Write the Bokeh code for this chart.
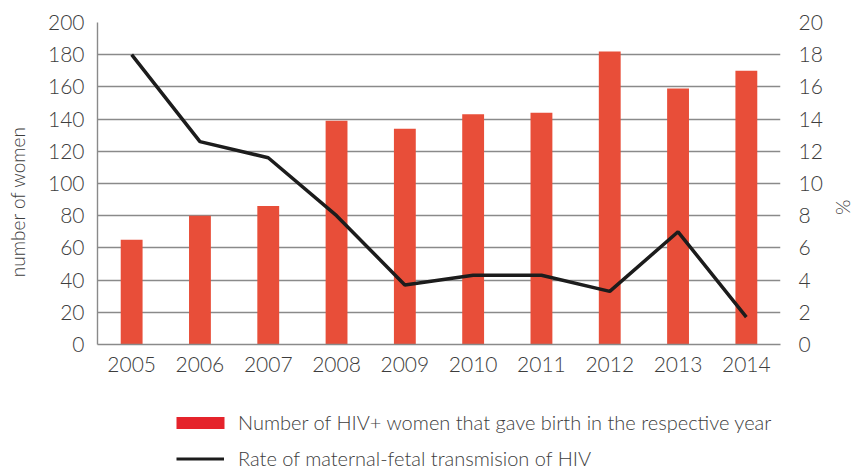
from bokeh.plotting import figure
from bokeh.layouts import column
from bokeh.models import (FactorRange, Range1d, LinearAxis, FixedTicker, Legend,
                          LegendItem, ColumnDataSource, Title)
from bokeh.embed import file_html
from bokeh.resources import INLINE

years = ["2005", "2006", "2007", "2008", "2009", "2010", "2011", "2012", "2013", "2014"]
women = [65, 80, 86, 139, 134, 143, 144, 182, 159, 170]
rate = [18.0, 12.6, 11.6, 8.0, 3.7, 4.3, 4.3, 3.3, 7.0, 1.7]
left_ticks = [0, 20, 40, 60, 80, 100, 120, 140, 160, 180, 200]
right_ticks = [0, 2, 4, 6, 8, 10, 12, 14, 16, 18, 20]
left_title = "number of women"
right_title = "%"
bar_label = "Number of HIV+ women that gave birth in the respective year"
line_label = "Rate of maternal-fetal transmision of HIV"

FONT = "Lato Light, Lato"
TEXT = "#3d3d3d"
GRID = "#8a8a8a"
BAR = "#E84E39"
SWATCH = "#E5232B"
LINE = "#1c1c1c"
NAN = float("nan")
NBSP = "\u00a0"

src = ColumnDataSource(dict(year=years, women=women, rate=rate))

p = figure(width=859, height=400, x_range=FactorRange(*years),
           y_range=Range1d(0, 200), output_backend="svg", toolbar_location=None,
           title=None, min_border_left=97, min_border_right=78,
           min_border_top=22, min_border_bottom=56)
p.extra_y_ranges = {"pct": Range1d(0, 20)}
p.outline_line_color = None

p.vbar(x="year", top="women", width=0.32, source=src,
       fill_color=BAR, line_color=None)
p.line(x="year", y="rate", source=src, y_range_name="pct",
       line_color=LINE, line_width=3.5)

p.xgrid.grid_line_color = None
p.ygrid.grid_line_color = GRID
p.ygrid.grid_line_width = 1.4

xaxis = p.xaxis[0]
laxis = p.yaxis[0]
laxis.ticker = FixedTicker(ticks=left_ticks)
raxis = LinearAxis(y_range_name="pct", ticker=FixedTicker(ticks=right_ticks))
p.add_layout(raxis, "right")

for ax in [xaxis, laxis, raxis]:
    ax.major_tick_line_color = None
    ax.major_tick_out = 0
    ax.major_tick_in = 0
    ax.minor_tick_line_color = None
    ax.minor_tick_out = 0
    ax.minor_tick_in = 0
    ax.axis_line_color = GRID
    ax.axis_line_width = 1.4
    ax.major_label_text_font = FONT
    ax.major_label_text_font_size = "21px"
    ax.major_label_text_color = TEXT

raxis.axis_line_color = None
xaxis.major_label_standoff = 12
laxis.major_label_standoff = 13
raxis.major_label_standoff = 18

# left axis title: trailing no-break spaces move the visible words below the centre
laxis.axis_label = left_title + NBSP * 7
laxis.axis_label_standoff = 16
laxis.axis_label_text_font = FONT
laxis.axis_label_text_font_size = "19px"
laxis.axis_label_text_font_style = "normal"
laxis.axis_label_text_color = TEXT

p.add_layout(Title(text=right_title, align="left", offset=177, vertical_align="top",
                   standoff=8, text_font=FONT, text_font_size="20px",
                   text_font_style="normal", text_color=TEXT), "right")

# legend panel (frames of the column are aligned with the chart's frame)
q = figure(width=859, height=70, x_range=Range1d(0, 1), y_range=Range1d(0, 1),
           output_backend="svg", toolbar_location=None, title=None,
           x_axis_location=None, y_axis_location=None, min_border=0)
q.outline_line_color = None
q.xgrid.grid_line_color = None
q.ygrid.grid_line_color = None
lg_bar = q.vbar(x=[0.5], top=[NAN], width=0.3, fill_color=SWATCH, line_color=None)
lg_line = q.line(x=[NAN], y=[NAN], line_color=LINE, line_width=3)

def make_legend(item, gw, gh, loc, standoff):
    lg = Legend(items=[item], location=loc, orientation="vertical",
                glyph_width=gw, glyph_height=gh, label_height=gh,
                label_standoff=standoff, padding=0, margin=0, spacing=0,
                border_line_color=None, background_fill_alpha=0,
                label_text_font=FONT, label_text_font_size="20px",
                label_text_color=TEXT)
    q.add_layout(lg, "center")

make_legend(LegendItem(label=bar_label, renderers=[lg_bar]), 60, 15, (73, 36), 8)
make_legend(LegendItem(label=line_label, renderers=[lg_line]), 48, 15, (79, 0), 14)

open("out.html", "w").write(file_html(column(p, q, spacing=0), INLINE))
